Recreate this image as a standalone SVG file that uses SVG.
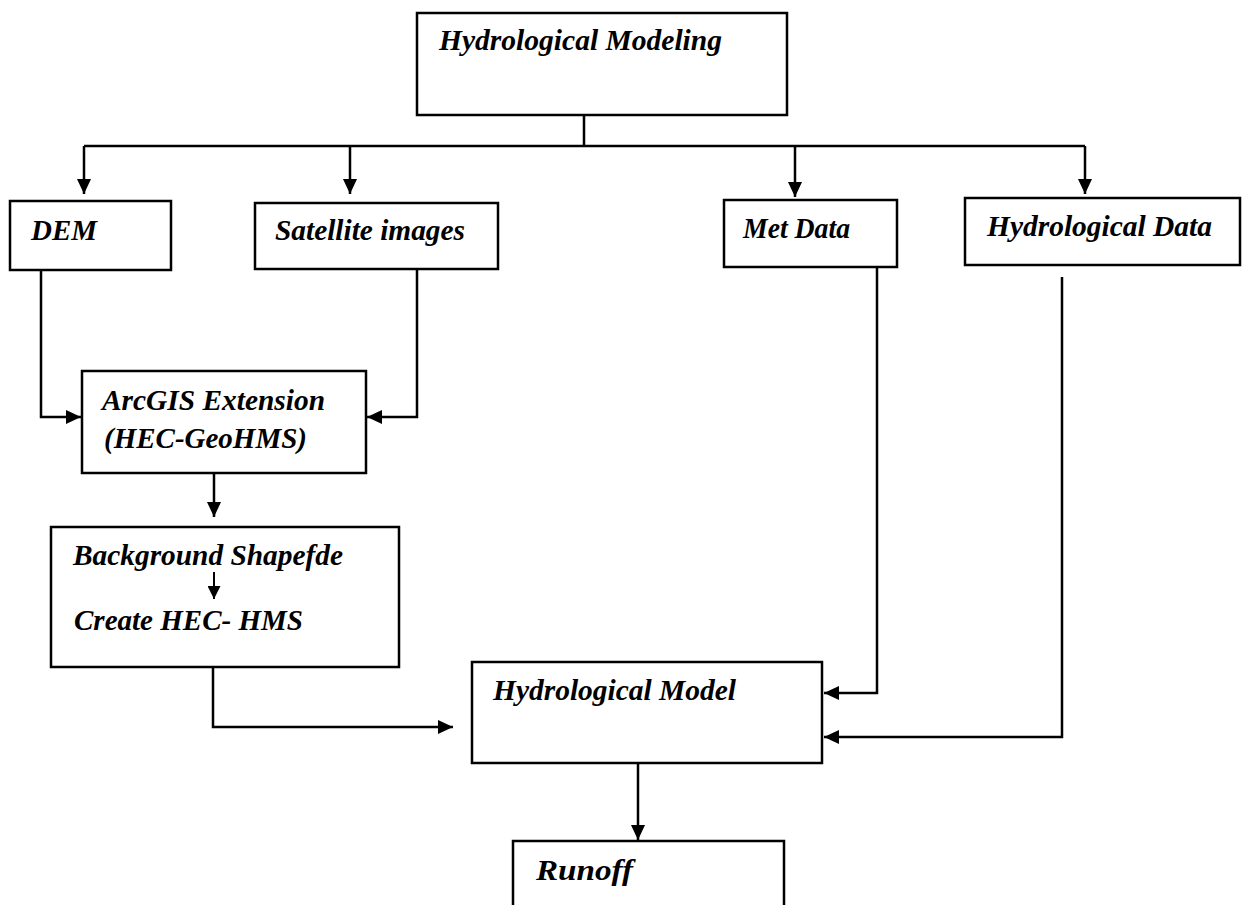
<svg xmlns="http://www.w3.org/2000/svg" width="1258" height="905" viewBox="0 0 1258 905">
<style>
.box{fill:#fff;stroke:#000;stroke-width:2.5}
.lbl{font-family:"Liberation Serif","Times New Roman",serif;font-weight:bold;font-style:italic;font-size:29px;fill:#000}
.con{fill:none;stroke:#000;stroke-width:2.5}
</style>
<defs>
<marker id="ah" markerUnits="userSpaceOnUse" markerWidth="16" markerHeight="14" refX="15" refY="7" orient="auto">
<path d="M0,0 L15,7 L0,14 z" fill="#000"/>
</marker>
<marker id="ahs" markerUnits="userSpaceOnUse" markerWidth="14" markerHeight="13" refX="13" refY="6.5" orient="auto">
<path d="M0,0 L13,6.5 L0,13 z" fill="#000"/>
</marker>
</defs>
<rect width="1258" height="905" fill="#fff"/>
<g id="connectors">
<path class="con" d="M584,115 V146"/>
<path class="con" d="M84,146 H1085"/>
<path class="con" d="M84,146 V194" marker-end="url(#ah)"/>
<path class="con" d="M350,146 V194" marker-end="url(#ah)"/>
<path class="con" d="M795,146 V197" marker-end="url(#ah)"/>
<path class="con" d="M1085,146 V194" marker-end="url(#ah)"/>
<path class="con" d="M41,270 V417 H81" marker-end="url(#ah)"/>
<path class="con" d="M417,269 V417 H367" marker-end="url(#ah)"/>
<path class="con" d="M214,473 V517" marker-end="url(#ah)"/>
<path class="con" d="M213,667 V727 H453" marker-end="url(#ah)"/>
<path class="con" d="M877,267 V693 H824" marker-end="url(#ah)"/>
<path class="con" d="M1062,277 V737 H824" marker-end="url(#ah)"/>
<path class="con" d="M638,763 V840" marker-end="url(#ah)"/>
</g>
<g id="n-hydrological-modeling">
<rect class="box" x="417" y="13" width="370" height="102"/>
<text class="lbl" x="439" y="50" textLength="283" lengthAdjust="spacingAndGlyphs">Hydrological Modeling</text>
</g>
<g id="n-dem">
<rect class="box" x="10" y="201" width="161" height="69"/>
<text class="lbl" x="31" y="240" textLength="66" lengthAdjust="spacingAndGlyphs">DEM</text>
</g>
<g id="n-satellite">
<rect class="box" x="255" y="203" width="243" height="66"/>
<text class="lbl" x="275" y="240" textLength="190" lengthAdjust="spacingAndGlyphs">Satellite images</text>
</g>
<g id="n-met">
<rect class="box" x="724" y="200" width="173" height="67"/>
<text class="lbl" x="743" y="238" textLength="107" lengthAdjust="spacingAndGlyphs">Met Data</text>
</g>
<g id="n-hydro-data">
<rect class="box" x="965" y="198" width="275" height="67"/>
<text class="lbl" x="987" y="236" textLength="225" lengthAdjust="spacingAndGlyphs">Hydrological Data</text>
</g>
<g id="n-arcgis">
<rect class="box" x="82" y="371" width="284" height="102"/>
<text class="lbl" x="102" y="410" textLength="223" lengthAdjust="spacingAndGlyphs">ArcGIS Extension</text>
<text class="lbl" x="104" y="448" textLength="203" lengthAdjust="spacingAndGlyphs">(HEC-GeoHMS)</text>
</g>
<g id="n-background">
<rect class="box" x="51" y="527" width="348" height="140"/>
<text class="lbl" x="73" y="565" textLength="270" lengthAdjust="spacingAndGlyphs">Background Shapefde</text>
<path d="M214,572 V599" fill="none" stroke="#000" stroke-width="2" marker-end="url(#ahs)"/>
<text class="lbl" x="74" y="630" textLength="229" lengthAdjust="spacingAndGlyphs">Create HEC- HMS</text>
</g>
<g id="n-model">
<rect class="box" x="472" y="662" width="350" height="101"/>
<text class="lbl" x="493" y="700" textLength="243" lengthAdjust="spacingAndGlyphs">Hydrological Model</text>
</g>
<g id="n-runoff">
<rect class="box" x="513" y="841" width="271" height="80"/>
<text class="lbl" x="536" y="880" textLength="97" lengthAdjust="spacingAndGlyphs">Runoff</text>
</g>
</svg>
